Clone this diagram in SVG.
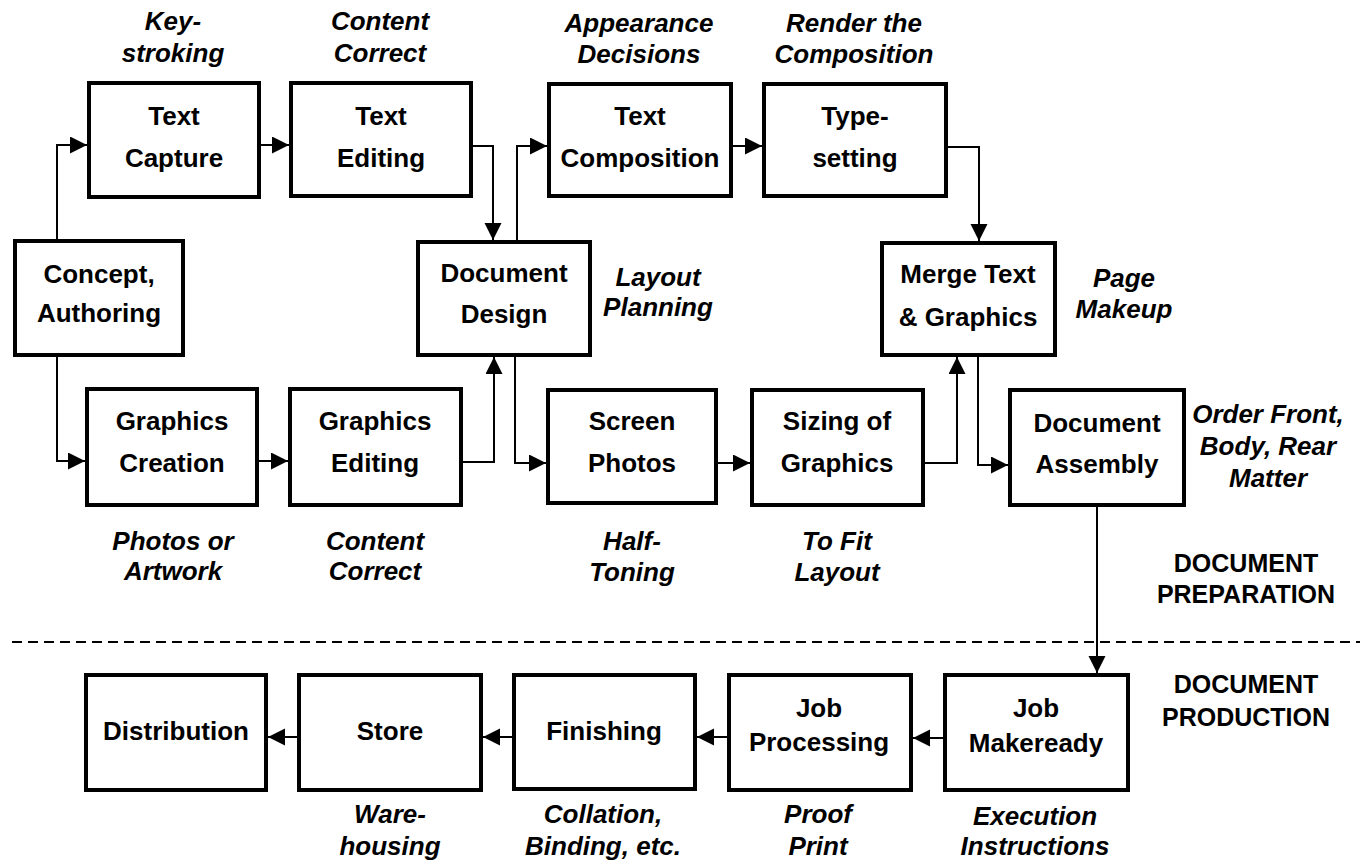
<svg xmlns="http://www.w3.org/2000/svg" width="1360" height="860" viewBox="0 0 1360 860">
<style>
.box{fill:#fff;stroke:#000;stroke-width:4}
.t{font-family:"Liberation Sans",Arial,sans-serif;font-weight:bold;font-size:26px;text-anchor:middle;fill:#000}
.c{font-family:"Liberation Sans",Arial,sans-serif;font-weight:bold;font-style:italic;font-size:26px;text-anchor:middle;fill:#000}
.s{font-family:"Liberation Sans",Arial,sans-serif;font-weight:bold;font-size:25px;text-anchor:middle;fill:#000}
.ln{fill:none;stroke:#000;stroke-width:2;marker-end:url(#ah)}
.dash{fill:none;stroke:#000;stroke-width:2;stroke-dasharray:10 6}
</style>
<defs>
<marker id="ah" markerUnits="userSpaceOnUse" markerWidth="18" markerHeight="18" refX="17" refY="8.5" orient="auto">
<path d="M0,0 L17,8.5 L0,17 z" fill="#000"/>
</marker>
</defs>
<rect width="1360" height="860" fill="#fff"/>

<g id="connectors">
<path class="ln" d="M57,239 V145 H87"/>
<path class="ln" d="M57,357 V461 H85"/>
<path class="ln" d="M261,145 H289"/>
<path class="ln" d="M472,146 H493 V240"/>
<path class="ln" d="M517,240 V146 H547"/>
<path class="ln" d="M733,146 H762"/>
<path class="ln" d="M948,147 H979 V241"/>
<path class="ln" d="M259,461 H288"/>
<path class="ln" d="M463,462 H494 V357"/>
<path class="ln" d="M515,357 V463 H546"/>
<path class="ln" d="M718,463 H750"/>
<path class="ln" d="M925,463 H957 V357"/>
<path class="ln" d="M978,357 V465 H1008"/>
<path class="ln" d="M1097,507 V673"/>
<path class="ln" d="M943,738 H913"/>
<path class="ln" d="M727,737 H697"/>
<path class="ln" d="M512,737 H483"/>
<path class="ln" d="M297,737 H268"/>
</g>

<line class="dash" x1="12" y1="642" x2="1360" y2="642"/>

<g id="text-capture"><rect class="box" x="89" y="83" width="170" height="114"/><text class="t" x="174" y="125">Text</text><text class="t" x="174" y="167">Capture</text></g>
<g id="text-editing"><rect class="box" x="291" y="83" width="180" height="113"/><text class="t" x="381" y="125">Text</text><text class="t" x="381" y="167">Editing</text></g>
<g id="text-composition"><rect class="box" x="549" y="84" width="182" height="112"/><text class="t" x="640" y="125">Text</text><text class="t" x="640" y="167">Composition</text></g>
<g id="typesetting"><rect class="box" x="764" y="84" width="182" height="112"/><text class="t" x="855" y="125">Type-</text><text class="t" x="855" y="167">setting</text></g>
<g id="concept"><rect class="box" x="15" y="241" width="168" height="114"/><text class="t" x="99" y="283">Concept,</text><text class="t" x="99" y="322">Authoring</text></g>
<g id="document-design"><rect class="box" x="418" y="242" width="172" height="113"/><text class="t" x="504" y="282">Document</text><text class="t" x="504" y="323">Design</text></g>
<g id="merge"><rect class="box" x="882" y="243" width="173" height="112"/><text class="t" x="968" y="283">Merge Text</text><text class="t" x="968" y="326">&amp; Graphics</text></g>
<g id="graphics-creation"><rect class="box" x="87" y="389" width="170" height="116"/><text class="t" x="172" y="430">Graphics</text><text class="t" x="172" y="472">Creation</text></g>
<g id="graphics-editing"><rect class="box" x="290" y="389" width="171" height="116"/><text class="t" x="375" y="430">Graphics</text><text class="t" x="375" y="472">Editing</text></g>
<g id="screen-photos"><rect class="box" x="548" y="390" width="168" height="113"/><text class="t" x="632" y="430">Screen</text><text class="t" x="632" y="472">Photos</text></g>
<g id="sizing"><rect class="box" x="752" y="390" width="171" height="115"/><text class="t" x="837" y="430">Sizing of</text><text class="t" x="837" y="472">Graphics</text></g>
<g id="document-assembly"><rect class="box" x="1010" y="390" width="174" height="115"/><text class="t" x="1097" y="432">Document</text><text class="t" x="1097" y="473">Assembly</text></g>
<g id="distribution"><rect class="box" x="86" y="675" width="180" height="115"/><text class="t" x="176" y="740">Distribution</text></g>
<g id="store"><rect class="box" x="299" y="675" width="182" height="115"/><text class="t" x="390" y="740">Store</text></g>
<g id="finishing"><rect class="box" x="514" y="675" width="181" height="114"/><text class="t" x="604" y="740">Finishing</text></g>
<g id="job-processing"><rect class="box" x="729" y="675" width="182" height="115"/><text class="t" x="819" y="717">Job</text><text class="t" x="819" y="751">Processing</text></g>
<g id="job-makeready"><rect class="box" x="945" y="675" width="183" height="115"/><text class="t" x="1036" y="717">Job</text><text class="t" x="1036" y="752">Makeready</text></g>

<g id="captions">
<text class="c" x="173" y="30">Key-</text><text class="c" x="173" y="62">stroking</text>
<text class="c" x="380" y="30">Content</text><text class="c" x="380" y="62">Correct</text>
<text class="c" x="639" y="32">Appearance</text><text class="c" x="639" y="63">Decisions</text>
<text class="c" x="854" y="32">Render the</text><text class="c" x="854" y="63">Composition</text>
<text class="c" x="658" y="286">Layout</text><text class="c" x="658" y="316">Planning</text>
<text class="c" x="1124" y="287">Page</text><text class="c" x="1124" y="318">Makeup</text>
<text class="c" x="1268" y="423">Order Front,</text><text class="c" x="1268" y="455">Body, Rear</text><text class="c" x="1268" y="487">Matter</text>
<text class="c" x="173" y="550">Photos or</text><text class="c" x="173" y="580">Artwork</text>
<text class="c" x="375" y="550">Content</text><text class="c" x="375" y="580">Correct</text>
<text class="c" x="632" y="550">Half-</text><text class="c" x="632" y="581">Toning</text>
<text class="c" x="837" y="550">To Fit</text><text class="c" x="837" y="581">Layout</text>
<text class="c" x="390" y="823">Ware-</text><text class="c" x="390" y="855">housing</text>
<text class="c" x="603" y="823">Collation,</text><text class="c" x="603" y="855">Binding, etc.</text>
<text class="c" x="818" y="823">Proof</text><text class="c" x="818" y="855">Print</text>
<text class="c" x="1035" y="825">Execution</text><text class="c" x="1035" y="855">Instructions</text>
<text class="s" x="1246" y="572">DOCUMENT</text><text class="s" x="1246" y="603">PREPARATION</text>
<text class="s" x="1246" y="693">DOCUMENT</text><text class="s" x="1246" y="726">PRODUCTION</text>
</g>
</svg>
